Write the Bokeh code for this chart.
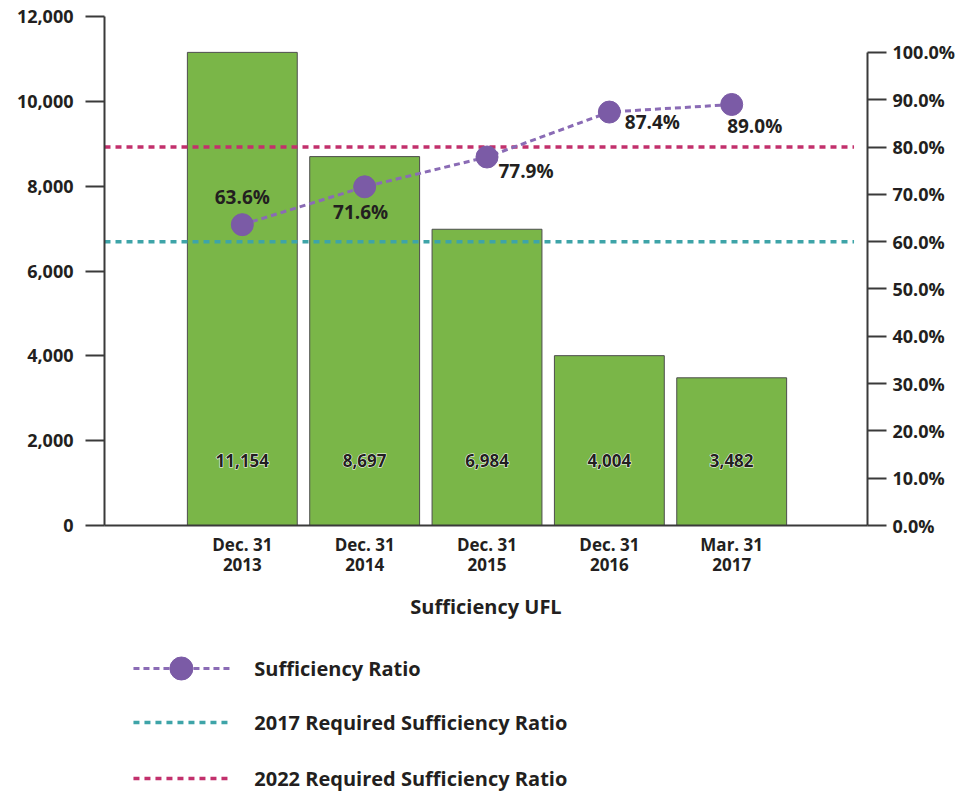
from bokeh.plotting import figure
from bokeh.models import (Range1d, LinearAxis, SingleIntervalTicker, FixedTicker,
                          NumeralTickFormatter, ColumnDataSource)
from bokeh.layouts import column
from bokeh.core.properties import value
from bokeh.embed import file_html
from bokeh.resources import INLINE

# ---------------- data ----------------
categories = ["Dec. 31\n2013", "Dec. 31\n2014", "Dec. 31\n2015", "Dec. 31\n2016", "Mar. 31\n2017"]
ufl_values = [11154, 8697, 6984, 4004, 3482]
sufficiency_ratio = [0.636, 0.716, 0.779, 0.874, 0.890]
required_2017 = 0.60
required_2022 = 0.80
legend_labels = ["Sufficiency Ratio", "2017 Required Sufficiency Ratio", "2022 Required Sufficiency Ratio"]
x_title = "Sufficiency UFL"

# ---------------- styles ----------------
FONT = "Open Sans"
TXT = "#231f20"
AXIS = "#3a3a3a"
GREEN = "#7ab648"
PURPLE_LINE = "#8a6bb5"
PURPLE_DOT = "#7b5ba6"
TEAL = "#3ea4a8"
MAGENTA = "#c2306c"

W = 958
BL, BR = 104, 90
n = len(categories)
idx = list(range(n))
x_start, x_end = -1.1265, 5.110

p = figure(width=W, height=640, output_backend="svg", toolbar_location=None,
           x_range=Range1d(x_start, x_end), y_range=Range1d(0, 12000),
           min_border_left=BL, min_border_right=BR, min_border_top=16, min_border_bottom=115)
p.grid.visible = False
p.outline_line_color = None
p.background_fill_color = "white"
p.border_fill_color = "white"

# x axis
xa = p.xaxis[0]
xa.ticker = FixedTicker(ticks=idx)
xa.major_label_overrides = {i: c for i, c in zip(idx, categories)}
xa.major_tick_out = 0
xa.major_tick_in = 0
xa.minor_tick_out = 0
xa.minor_tick_in = 0
xa.axis_line_color = AXIS
xa.axis_line_width = 2
xa.major_label_text_font = FONT
xa.major_label_text_font_style = "bold"
xa.major_label_text_font_size = "17px"
xa.major_label_text_color = TXT
xa.major_label_text_line_height = 0.9
xa.major_label_standoff = 7
xa.axis_label = x_title
xa.axis_label_text_font = FONT
xa.axis_label_text_font_style = "bold"
xa.axis_label_text_font_size = "20px"
xa.axis_label_text_color = TXT
xa.axis_label_standoff = 14

# left axis
ya = p.yaxis[0]
ya.ticker = SingleIntervalTicker(interval=2000)
ya.formatter = NumeralTickFormatter(format="0,0")
ya.bounds = (0, 12000)
ya.major_tick_out = 19
ya.major_tick_in = 0
ya.minor_tick_out = 0
ya.minor_tick_in = 0
ya.major_tick_line_width = 2
ya.major_tick_line_color = AXIS
ya.axis_line_color = AXIS
ya.axis_line_width = 2
ya.major_label_standoff = 12
ya.major_label_text_font = FONT
ya.major_label_text_font_style = "bold"
ya.major_label_text_font_size = "18px"
ya.major_label_text_color = TXT

# right axis
p.extra_y_ranges = {"pct": Range1d(0, 1.076)}
ra = LinearAxis(y_range_name="pct", ticker=SingleIntervalTicker(interval=0.1),
                formatter=NumeralTickFormatter(format="0.0%"), bounds=(0, 1.0))
ra.major_tick_out = 19
ra.major_tick_in = 0
ra.minor_tick_out = 0
ra.minor_tick_in = 0
ra.major_tick_line_width = 2
ra.major_tick_line_color = AXIS
ra.axis_line_color = AXIS
ra.axis_line_width = 2
ra.major_label_standoff = 6
ra.major_label_text_font = FONT
ra.major_label_text_font_style = "bold"
ra.major_label_text_font_size = "18px"
ra.major_label_text_color = TXT
p.add_layout(ra, "right")

# bars
bar_src = ColumnDataSource(dict(x=idx, top=ufl_values,
                                lbl=[f"{v:,}" for v in ufl_values],
                                zero=[0] * n))
p.vbar(x="x", top="top", width=0.898, source=bar_src, fill_color=GREEN,
       line_color="#4d4d4d", line_width=1)
# white halo, then dark text on top
p.text(x="x", y="zero", text="lbl", source=bar_src, y_offset=-65,
       text_align="center", text_baseline="middle", text_font=value(FONT),
       text_font_style="bold", text_font_size="17px", text_color="white",
       text_outline_color="white")
p.text(x="x", y="zero", text="lbl", source=bar_src, y_offset=-65,
       text_align="center", text_baseline="middle", text_font=value(FONT),
       text_font_style="bold", text_font_size="17px", text_color=TXT)

# required ratio lines
for val, col in [(required_2017, TEAL), (required_2022, MAGENTA)]:
    p.segment(x0=[x_start], y0=[val], x1=[n], y1=[val], y_range_name="pct",
              line_color=col, line_width=3.5, line_dash="6 5")

# sufficiency ratio
ratio_src = ColumnDataSource(dict(x=idx, y=sufficiency_ratio,
                                  lbl=[f"{r*100:.1f}%" for r in sufficiency_ratio],
                                  dx=[0, -4, 39, 43, 23],
                                  dy=[-28, 25, 14, 10, 22]))
p.line(x="x", y="y", source=ratio_src, y_range_name="pct", line_color=PURPLE_LINE,
       line_width=3, line_dash="6 4")
p.scatter(x="x", y="y", source=ratio_src, y_range_name="pct", size=22,
          fill_color=PURPLE_DOT, line_color=PURPLE_DOT)
p.text(x="x", y="y", text="lbl", source=ratio_src, y_range_name="pct",
       x_offset="dx", y_offset="dy", text_align="center", text_baseline="middle",
       text_font=value(FONT), text_font_style="bold", text_font_size="19px",
       text_color=TXT)

# ---------------- legend ----------------
LH = 152
lg = figure(width=W, height=LH, output_backend="svg", toolbar_location=None,
            x_range=Range1d(BL, W - BR), y_range=Range1d(LH, 0),
            x_axis_location=None, y_axis_location=None,
            min_border_left=BL, min_border_right=BR, min_border_top=0, min_border_bottom=0)
lg.grid.visible = False
lg.outline_line_color = None
rows = [28, 82, 138]
styles = [(PURPLE_LINE, "6 4", 3), (TEAL, "6 5", 3.5), (MAGENTA, "6 5", 3.5)]
for yy, (col, dash, w) in zip(rows, styles):
    lg.segment(x0=[133], y0=[yy], x1=[232], y1=[yy], line_color=col,
               line_dash=dash, line_width=w)
lg.scatter(x=[181], y=[rows[0]], size=23, fill_color=PURPLE_DOT, line_color=PURPLE_DOT)
lg.text(x=[254] * 3, y=rows, text=legend_labels, text_baseline="middle",
        text_align="left", text_font=value(FONT), text_font_style="bold",
        text_font_size="20px", text_color=TXT)

layout = column(p, lg)
open("out.html", "w").write(file_html(layout, INLINE))
